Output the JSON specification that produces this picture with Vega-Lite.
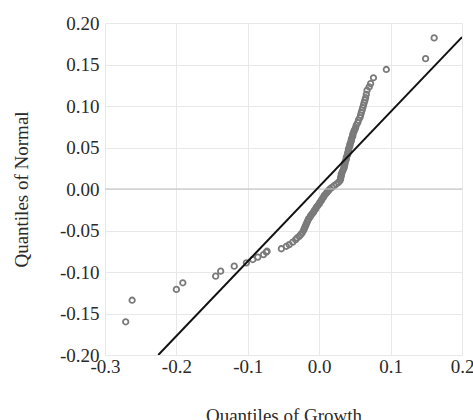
{
  "$schema": "https://vega.github.io/schema/vega-lite/v6.json",
  "autosize": {"type": "none"},
  "padding": {"left": 105, "top": 23, "right": 11, "bottom": 65},
  "width": 357,
  "height": 332,
  "background": "white",
  "config": {
    "font": "Liberation Serif",
    "view": {"stroke": null},
    "axis": {
      "labelFont": "Liberation Serif",
      "titleFont": "Liberation Serif",
      "labelFontSize": 19,
      "titleFontSize": 19,
      "titleFontWeight": "normal",
      "labelColor": "#2a2a2a",
      "titleColor": "#2a2a2a",
      "domain": false,
      "ticks": false,
      "gridColor": "#e8e8e8",
      "gridWidth": 1
    }
  },
  "datasets": {
    "pts": [
      {"growth": -0.271, "normal": -0.160},
      {"growth": -0.262, "normal": -0.134},
      {"growth": -0.200, "normal": -0.121},
      {"growth": -0.191, "normal": -0.113},
      {"growth": -0.145, "normal": -0.105},
      {"growth": -0.138, "normal": -0.099},
      {"growth": -0.119, "normal": -0.093},
      {"growth": -0.102, "normal": -0.089},
      {"growth": -0.093, "normal": -0.085},
      {"growth": -0.086, "normal": -0.082},
      {"growth": -0.078, "normal": -0.079},
      {"growth": -0.074, "normal": -0.076},
      {"growth": -0.073, "normal": -0.075},
      {"growth": -0.053, "normal": -0.072},
      {"growth": -0.046, "normal": -0.069},
      {"growth": -0.042, "normal": -0.067},
      {"growth": -0.037, "normal": -0.064},
      {"growth": -0.033, "normal": -0.061},
      {"growth": -0.031, "normal": -0.059},
      {"growth": -0.028, "normal": -0.057},
      {"growth": -0.026, "normal": -0.055},
      {"growth": -0.024, "normal": -0.053},
      {"growth": -0.022, "normal": -0.050},
      {"growth": -0.021, "normal": -0.048},
      {"growth": -0.020, "normal": -0.046},
      {"growth": -0.019, "normal": -0.044},
      {"growth": -0.018, "normal": -0.042},
      {"growth": -0.017, "normal": -0.040},
      {"growth": -0.016, "normal": -0.038},
      {"growth": -0.015, "normal": -0.036},
      {"growth": -0.013, "normal": -0.034},
      {"growth": -0.012, "normal": -0.032},
      {"growth": -0.010, "normal": -0.030},
      {"growth": -0.008, "normal": -0.028},
      {"growth": -0.007, "normal": -0.026},
      {"growth": -0.005, "normal": -0.024},
      {"growth": -0.004, "normal": -0.022},
      {"growth": -0.002, "normal": -0.020},
      {"growth": 0.000, "normal": -0.018},
      {"growth": 0.001, "normal": -0.016},
      {"growth": 0.003, "normal": -0.014},
      {"growth": 0.004, "normal": -0.012},
      {"growth": 0.006, "normal": -0.010},
      {"growth": 0.007, "normal": -0.008},
      {"growth": 0.009, "normal": -0.006},
      {"growth": 0.011, "normal": -0.004},
      {"growth": 0.013, "normal": -0.002},
      {"growth": 0.015, "normal": 0.000},
      {"growth": 0.018, "normal": 0.002},
      {"growth": 0.021, "normal": 0.004},
      {"growth": 0.024, "normal": 0.006},
      {"growth": 0.027, "normal": 0.008},
      {"growth": 0.029, "normal": 0.010},
      {"growth": 0.030, "normal": 0.012},
      {"growth": 0.030, "normal": 0.014},
      {"growth": 0.031, "normal": 0.016},
      {"growth": 0.031, "normal": 0.018},
      {"growth": 0.032, "normal": 0.020},
      {"growth": 0.033, "normal": 0.022},
      {"growth": 0.034, "normal": 0.024},
      {"growth": 0.035, "normal": 0.026},
      {"growth": 0.035, "normal": 0.028},
      {"growth": 0.036, "normal": 0.030},
      {"growth": 0.036, "normal": 0.032},
      {"growth": 0.037, "normal": 0.034},
      {"growth": 0.038, "normal": 0.036},
      {"growth": 0.038, "normal": 0.038},
      {"growth": 0.039, "normal": 0.040},
      {"growth": 0.040, "normal": 0.042},
      {"growth": 0.040, "normal": 0.044},
      {"growth": 0.041, "normal": 0.046},
      {"growth": 0.041, "normal": 0.048},
      {"growth": 0.042, "normal": 0.050},
      {"growth": 0.043, "normal": 0.052},
      {"growth": 0.043, "normal": 0.054},
      {"growth": 0.044, "normal": 0.056},
      {"growth": 0.045, "normal": 0.058},
      {"growth": 0.045, "normal": 0.060},
      {"growth": 0.046, "normal": 0.062},
      {"growth": 0.047, "normal": 0.064},
      {"growth": 0.047, "normal": 0.066},
      {"growth": 0.048, "normal": 0.068},
      {"growth": 0.049, "normal": 0.070},
      {"growth": 0.050, "normal": 0.072},
      {"growth": 0.051, "normal": 0.074},
      {"growth": 0.052, "normal": 0.077},
      {"growth": 0.054, "normal": 0.080},
      {"growth": 0.055, "normal": 0.083},
      {"growth": 0.057, "normal": 0.086},
      {"growth": 0.058, "normal": 0.089},
      {"growth": 0.059, "normal": 0.092},
      {"growth": 0.060, "normal": 0.095},
      {"growth": 0.061, "normal": 0.098},
      {"growth": 0.062, "normal": 0.101},
      {"growth": 0.063, "normal": 0.104},
      {"growth": 0.064, "normal": 0.107},
      {"growth": 0.065, "normal": 0.110},
      {"growth": 0.066, "normal": 0.114},
      {"growth": 0.067, "normal": 0.119},
      {"growth": 0.070, "normal": 0.123},
      {"growth": 0.072, "normal": 0.127},
      {"growth": 0.076, "normal": 0.134},
      {"growth": 0.094, "normal": 0.144},
      {"growth": 0.149, "normal": 0.157},
      {"growth": 0.161, "normal": 0.182}
    ],
    "fit": [
      {"growth": -0.2254, "normal": -0.200},
      {"growth": 0.200, "normal": 0.183}
    ],
    "zero": [{"normal": 0}]
  },
  "layer": [
    {
      "data": {"name": "pts"},
      "mark": {"type": "point", "shape": "circle", "filled": false, "stroke": "#7a7a7a", "strokeWidth": 1.8, "size": 30, "opacity": 1},
      "encoding": {
        "x": {
          "field": "growth", "type": "quantitative",
          "scale": {"domain": [-0.3, 0.2], "nice": false, "zero": false},
          "axis": {"values": [-0.3, -0.2, -0.1, 0.0, 0.1, 0.2], "labelExpr": "replace(format(datum.value, '.1f'), '\u2212', '-')", "title": "Quantiles of Growth", "labelPadding": 2, "titlePadding": 30, "labelFlush": false, "labelOverlap": false}
        },
        "y": {
          "field": "normal", "type": "quantitative",
          "scale": {"domain": [-0.2, 0.2], "nice": false, "zero": false},
          "axis": {"values": [-0.2, -0.15, -0.1, -0.05, 0, 0.05, 0.1, 0.15, 0.2], "labelExpr": "replace(format(datum.value, '.2f'), '\u2212', '-')", "title": "Quantiles of Normal", "labelPadding": 6, "titlePadding": 28, "labelFlush": false, "labelOverlap": false}
        }
      }
    },
    {
      "data": {"name": "zero"},
      "mark": {"type": "rule", "color": "#bdbdbd", "strokeWidth": 1.2},
      "encoding": {"y": {"field": "normal", "type": "quantitative"}}
    },
    {
      "data": {"name": "fit"},
      "mark": {"type": "line", "color": "#111111", "strokeWidth": 2, "clip": true},
      "encoding": {
        "x": {"field": "growth", "type": "quantitative"},
        "y": {"field": "normal", "type": "quantitative"}
      }
    }
  ]
}
